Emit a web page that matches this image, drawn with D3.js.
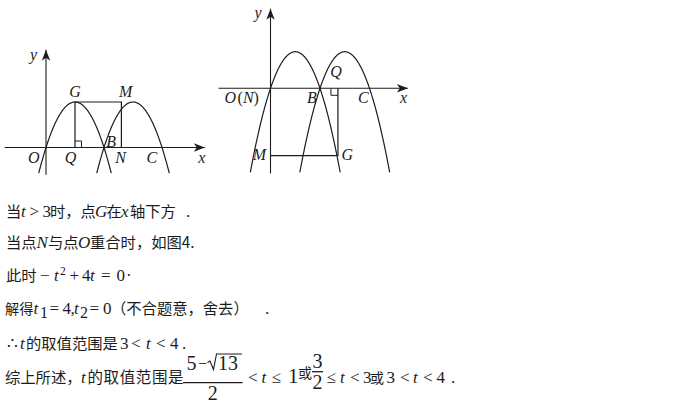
<!DOCTYPE html>
<html><head><meta charset="utf-8">
<script src="https://cdn.jsdelivr.net/npm/d3@7"></script>
<style>
html,body{margin:0;padding:0;background:#fff;}
svg{display:block;}
.c{font-family:"Noto Sans CJK SC","Noto Sans",sans-serif;}
.m{font-family:"Liberation Serif","DejaVu Serif",serif;}
.i{font-family:"Liberation Serif","DejaVu Serif",serif;font-style:italic;}
</style></head>
<body>
<script>
// ---- data ----
// parabolas y = -(x - r1)(x - r2)
const parabolaRoots = [[0, 4], [4, 8]];
// figure 1 (t between 3/2 and 3)
const fig1Curves = [[-0.5, 4.5], [3.5, 8.5]];      // x-extent of each parabola
const fig1Rect = [[2, 0], [2, 4], [5.2, 4], [5.2, 0]]; // Q, G, M, N
const fig1Axis = {x: [-2.85, 10.95], y: [-2.4, 8.6]};
const fig1Labels = [
  {t: "y", p: [-0.85, 7.65]}, {t: "G", p: [2.0, 4.45]}, {t: "M", p: [5.5, 4.45]},
  {t: "O", p: [-0.85, -1.35]}, {t: "Q", p: [1.7, -1.35]}, {t: "B", p: [4.5, 0.05]},
  {t: "N", p: [5.15, -1.35]}, {t: "C", p: [7.3, -1.35]}, {t: "x", p: [10.75, -1.35]}
];
// figure 2 (N coincides with O)
const fig2Curves = [[-1.63, 5.63], [2.37, 9.63]];
const fig2Rect = [[0, -7.35], [5.45, -7.35], [5.45, 0]]; // M, G, Q
const fig2Axis = {x: [-4.2, 11.1], y: [-9.3, 8.7]};
const fig2Labels = [
  {t: "y", p: [-1.0, 7.7]}, {t: "Q", p: [5.3, 1.2]}, {t: "B", p: [3.35, -1.65]},
  {t: "C", p: [7.5, -1.65]}, {t: "x", p: [10.75, -1.65]},
  {t: "M", p: [-0.9, -7.8]}, {t: "G", p: [6.2, -7.8]}
];

// text lines: [text, style, x, yOffset, size, letterSpacing]
const textLines = [
  {y: 216.5, segs: [["当","c",6],["t","i",21],[">","m",29.5],["3","m",42.5],["时，点","c",50],["G","i",95],["在","c",106.5],["x","i",121],["轴下方","c",130],[".","m",186]]},
  {y: 247.5, segs: [["当点","c",6],["N","i",36.5],["与点","c",48],["O","i",78],["重合时，如图4.","c",90]]},
  {y: 281, segs: [["此时","c",6],["−","m",40],["t","i",54],["2","m",60,-6.5,11.5],["+","m",69.5],["4","m",82],["t","i",90],["=","m",101],["0","m",116.5],["·","m",126]]},
  {y: 313.5, segs: [["解得","c",5,0,14.2],["t","i",33.5],["1","m",40,4.5,16],["=","m",49.5],["4","m",62.5],[",","m",70.5],["t","i",74],["2","m",80,4.5,16],["=","m",89.5],["0","m",103],["（不合题意，舍去）","c",111,0,15.3],[".","m",265]]},
  {y: 348.5, segs: [["∴","m",7],["t","i",20],["的取值范围是","c",26],["3","m",120],["<","m",131],["t","i",146],["<","m",156],["4","m",170],[".","m",182]]},
  {y: 383, segs: [["综上所述，","c",5,0,15.3],["t","i",81],["的取值范围是","c",87.5,0,15.5,0.6],["<","m",248],["t","i",261.5],["≤","m",271.5],["1","m",288,0,21],["或","c",298,-5,14],["≤","m",326.5],["t","i",340],["<","m",350],["3","m",363],["或","c",370,0,14],["3","m",386.5],["<","m",400],["t","i",413],["<","m",423],["4","m",436.5],[".","m",451]]}
];
// fractions in the last line
const fractions = [
  {num: "5 − 13", den: "2", x0: 183, x1: 242.5, bar: 382.7, numY: 369.5, denY: 400, size: 20, numX: 186.5, sqrt: true},
  {num: "3", den: "2", x0: 312, x1: 323, bar: 371.7, numY: 368, denY: 388.5, size: 20}
];

// ---- drawing ----
const W = 688, H = 407;
const svg = d3.select("body").append("svg").attr("width", W).attr("height", H);
const ink = "#1c1c1c";

function drawFigure(xs, ys, curves, axis, labels) {
  const g = svg.append("g");
  const line = d3.line().x(d => xs(d[0])).y(d => ys(d[1]));
  g.append("path").attr("d", line([[axis.x[0], 0], [axis.x[1], 0]])).attr("stroke", ink).attr("stroke-width", 1.1).attr("fill", "none");
  g.append("path").attr("d", line([[0, axis.y[0]], [0, axis.y[1]]])).attr("stroke", ink).attr("stroke-width", 1.1).attr("fill", "none");
  const tx = xs(axis.x[1]), ty = ys(0);
  g.append("path").attr("d", `M${tx},${ty}L${tx-11},${ty-4.2}L${tx-8},${ty}L${tx-11},${ty+4.2}Z`).attr("fill", ink);
  const ux = xs(0), uy = ys(axis.y[1]);
  g.append("path").attr("d", `M${ux},${uy}L${ux-4.2},${uy+11}L${ux},${uy+8}L${ux+4.2},${uy+11}Z`).attr("fill", ink);
  curves.forEach((ext, k) => {
    const [r1, r2] = parabolaRoots[k];
    const pts = d3.range(0, 201).map(j => {
      const x = ext[0] + (ext[1] - ext[0]) * j / 200;
      return [x, -(x - r1) * (x - r2)];
    });
    g.append("path").attr("d", line(pts)).attr("stroke", ink).attr("stroke-width", 1.2).attr("fill", "none");
  });
  labels.forEach(l => {
    g.append("text").attr("class", "i").attr("x", xs(l.p[0])).attr("y", ys(l.p[1]))
      .attr("text-anchor", "middle").attr("font-size", 16).attr("fill", ink).text(l.t);
  });
  return {g, line};
}

// figure 1
const x1 = d3.scaleLinear().domain([0, 4]).range([46, 104]);
const y1 = d3.scaleLinear().domain([0, 4]).range([147.5, 102]);
const f1 = drawFigure(x1, y1, fig1Curves, fig1Axis, fig1Labels);
f1.g.append("path").attr("d", f1.line(fig1Rect)).attr("stroke", ink).attr("stroke-width", 1.2).attr("fill", "none");
{
  const qx = x1(fig1Rect[0][0]), qy = y1(fig1Rect[0][1]), s = 6.5;
  f1.g.append("path").attr("d", `M${qx},${qy-s}H${qx+s}V${qy}`).attr("stroke", ink).attr("stroke-width", 1).attr("fill", "none");
}

// figure 2
const x2 = d3.scaleLinear().domain([0, 4]).range([270.5, 320]);
const y2 = d3.scaleLinear().domain([0, 4]).range([88.3, 51.7]);
const f2 = drawFigure(x2, y2, fig2Curves, fig2Axis, fig2Labels);
f2.g.append("path").attr("d", f2.line(fig2Rect)).attr("stroke", ink).attr("stroke-width", 1.2).attr("fill", "none");
{
  const qx = x2(fig2Rect[2][0]), qy = y2(fig2Rect[2][1]), s = 7;
  f2.g.append("path").attr("d", `M${qx-s},${qy}V${qy+s}H${qx}`).attr("stroke", ink).attr("stroke-width", 1).attr("fill", "none");
}
{
  const t = f2.g.append("text").attr("x", x2(0) - 46).attr("y", y2(-1.65)).attr("font-size", 16).attr("fill", ink);
  t.append("tspan").attr("class", "i").text("O");
  t.append("tspan").attr("class", "m").attr("dx", 1.5).text("(");
  t.append("tspan").attr("class", "i").text("N");
  t.append("tspan").attr("class", "m").text(")");
}

// text
textLines.forEach(L => {
  const t = svg.append("text").attr("fill", ink).attr("font-size", 17);
  L.segs.forEach(s => {
    const ts = t.append("tspan").attr("class", s[1]).attr("x", s[2]).attr("y", L.y + (s[3] || 0)).text(s[0]);
    if (s[4]) ts.attr("font-size", s[4]);
    else if (s[1] === "c") ts.attr("font-size", 15.3);
    if (s[5]) ts.attr("letter-spacing", s[5]);
  });
});
fractions.forEach(f => {
  svg.append("line").attr("x1", f.x0).attr("x2", f.x1).attr("y1", f.bar).attr("y2", f.bar).attr("stroke", ink).attr("stroke-width", 1.3);
  const cx = (f.x0 + f.x1) / 2;
  if (f.sqrt) {
    const t = svg.append("text").attr("class", "m").attr("font-size", f.size).attr("fill", ink).attr("y", f.numY);
    t.append("tspan").attr("x", f.numX).text("5");
    t.append("tspan").attr("x", f.numX + 11.5).attr("font-size", 16).attr("dy", -1).text("−");
    t.append("tspan").attr("x", 218).attr("dy", 1).text("13");
    svg.append("path").attr("d", "M207.5,362.5L210,361L213.5,369.5L216.5,354L242,354").attr("stroke", ink).attr("stroke-width", 1.1).attr("fill", "none");
  } else {
    svg.append("text").attr("class", "m").attr("font-size", f.size).attr("fill", ink).attr("x", cx).attr("y", f.numY).attr("text-anchor", "middle").text(f.num);
  }
  svg.append("text").attr("class", "m").attr("font-size", f.size).attr("fill", ink).attr("x", cx).attr("y", f.denY).attr("text-anchor", "middle").text(f.den);
});
</script>
</body></html>
